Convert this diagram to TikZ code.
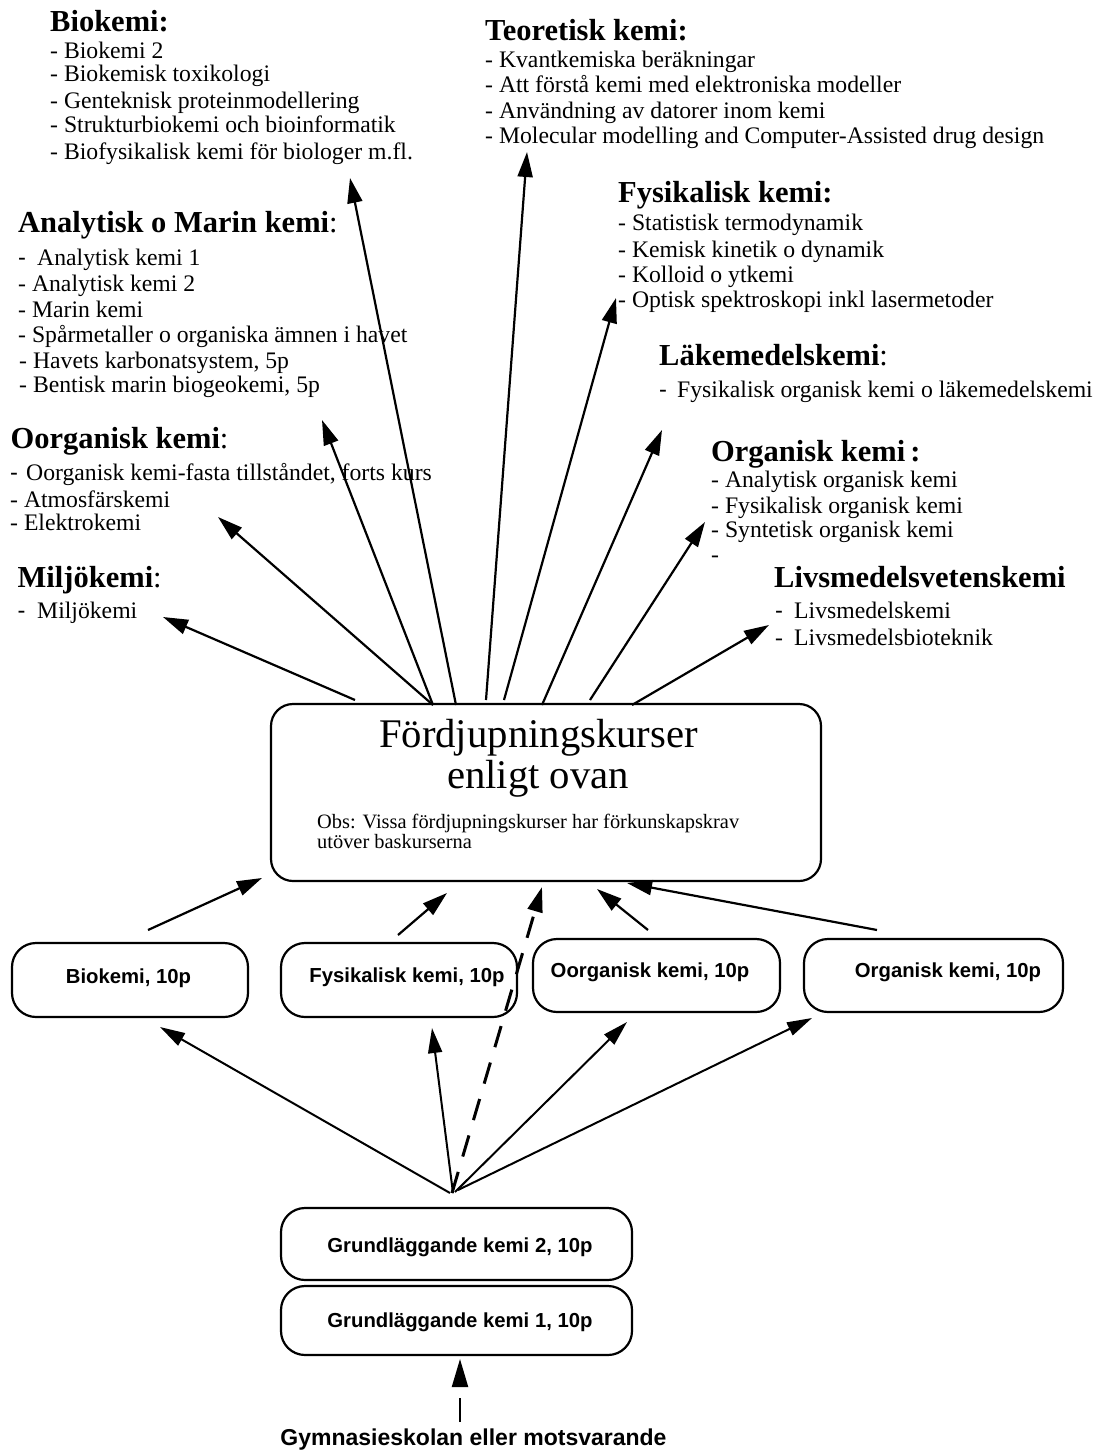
\documentclass[tikz,border=0pt]{standalone}
\usepackage{fontspec}
\setmainfont{Liberation Serif}
\setsansfont{Liberation Sans}
\usetikzlibrary{arrows.meta}
\tikzset{
  hd/.style={anchor=base west, inner sep=0pt, font=\fontsize{30.5}{32}\selectfont\bfseries},
  it/.style={anchor=base west, inner sep=0pt, font=\fontsize{23.7}{25}\selectfont},
  ctext/.style={anchor=base, inner sep=0pt, font=\fontsize{40.7}{42}\selectfont},
  obs/.style={anchor=base west, inner sep=0pt, font=\fontsize{20.4}{22}\selectfont},
  bt/.style={anchor=base, inner sep=0pt, font=\fontsize{20.3}{22}\selectfont\sffamily\bfseries},
  arr/.style={line width=2.2pt, -{Triangle[length=25pt,width=15pt]}},
  arrlow/.style={line width=2pt, -{Triangle[length=25pt,width=14pt]}},
  rbox/.style={draw, line width=2.2pt, rounded corners=24pt, inner sep=0pt},
}
\newcommand{\sh}[1]{\makebox[#1][l]{\sffamily -}}
\begin{document}
\begin{tikzpicture}[x=1pt,y=-1pt]
\useasboundingbox (0,0) rectangle (1094,1450);
\fill[white] (0,0) rectangle (1094,1450);

% ---------- top text blocks ----------
\node[hd] (hB) at (50,32) {Biokemi:};
\node[it] (b1) at (50,59) {- Biokemi 2};
\node[it] (b2) at (50,82) {- Biokemisk toxikologi};
\node[it] (b3) at (50,109) {- Genteknisk proteinmodellering};
\node[it] (b4) at (50,133) {- Strukturbiokemi och bioinformatik};
\node[it] (b5) at (50,160) {- Biofysikalisk kemi för biologer m.fl.};

\node[hd] (hA) at (18,232) {Analytisk o Marin kemi{\mdseries:}};
\node[it] (a1) at (18,265) {\sh{19pt}Analytisk kemi 1};
\node[it] (a2) at (18,291) {- Analytisk kemi 2};
\node[it] (a3) at (18,317) {- Marin kemi};
\node[it] (a4) at (18,342) {- Spårmetaller o organiska ämnen i havet};
\node[it] (a5) at (19,368) {- Havets karbonatsystem, 5p};
\node[it] (a6) at (19,392) {- Bentisk marin biogeokemi, 5p};

\node[hd] (hO) at (10.5,448) {Oorganisk kemi{\mdseries:}};
\node[it] (o1) at (10,480) {\sh{16pt}Oorganisk kemi-fasta tillståndet, forts kurs};
\node[it] (o2) at (10,507) {- Atmosfärskemi};
\node[it] (o3) at (10,530) {- Elektrokemi};

\node[hd] (hM) at (17.5,587) {Miljökemi{\mdseries:}};
\node[it] (m1) at (17.5,618) {\sh{19.5pt}Miljökemi};

\node[hd] (hT) at (485,41) {Teoretisk kemi:};
\node[it] (t1) at (485,68) {- Kvantkemiska beräkningar};
\node[it] (t2) at (485,93) {- Att förstå kemi med elektroniska modeller};
\node[it] (t3) at (485,119) {- Användning av datorer inom kemi};
\node[it] (t4) at (485,144) {- Molecular modelling and Computer-Assisted drug design};

\node[hd] (hF) at (618,202) {Fysikalisk kemi:};
\node[it] (f1) at (618,230) {- Statistisk termodynamik};
\node[it] (f2) at (618,257) {- Kemisk kinetik o dynamik};
\node[it] (f3) at (618,282) {- Kolloid o ytkemi};
\node[it] (f4) at (618,307) {- Optisk spektroskopi inkl lasermetoder};

\node[hd] (hL) at (659,365) {Läkemedelskemi{\mdseries:}};
\node[it] (l1) at (659,397) {\sh{18pt}Fysikalisk organisk kemi o läkemedelskemi};

\node[hd] (hOr) at (711,461) {Organisk kemi\,:};
\node[it] (or1) at (711,487) {- Analytisk organisk kemi};
\node[it] (or2) at (711,513) {- Fysikalisk organisk kemi};
\node[it] (or3) at (711,537) {- Syntetisk organisk kemi};
\node[it] (or4) at (711,562) {-};

\node[hd] (hLv) at (774,587) {Livsmedelsvetenskemi};
\node[it] (lv1) at (775,618) {\sh{19pt}Livsmedelskemi};
\node[it] (lv2) at (775,645) {\makebox[19pt][l]{-}Livsmedelsbioteknik};

% ---------- central box ----------
\node[rbox, rounded corners=22pt, minimum width=550pt, minimum height=177pt] (cbox) at (546,792.5) {};
\node[ctext] (c1) at (538.5,747) {Fördjupningskurser};
\node[ctext] (c2) at (538,788) {enligt ovan};
\node[obs] (c3) at (317,828) {Obs: Vissa fördjupningskurser har förkunskapskrav};
\node[obs] (c4) at (317,848) {utöver baskurserna};

% ---------- middle boxes ----------
\node[rbox, minimum width=236pt, minimum height=74pt] (bio) at (130,980) {};
\node[bt] (biot) at (128.5,983) {Biokemi, 10p};
\node[rbox, minimum width=236pt, minimum height=74pt] (fys) at (399,980) {};
\node[bt] (fyst) at (407,982) {Fysikalisk kemi, 10p};
\node[rbox, minimum width=247pt, minimum height=73pt] (oor) at (656.5,975.5) {};
\node[bt] (oort) at (650,977) {Oorganisk kemi, 10p};
\node[rbox, minimum width=259pt, minimum height=73pt] (org) at (933.5,975.5) {};
\node[bt] (orgt) at (948,977) {Organisk kemi, 10p};

% ---------- base boxes ----------
\node[rbox, minimum width=351pt, minimum height=72pt] (g2) at (456.5,1244) {};
\node[bt] (g2t) at (460,1252) {Grundläggande kemi 2, 10p};
\node[rbox, minimum width=351pt, minimum height=69pt] (g1) at (456.5,1320.5) {};
\node[bt] (g1t) at (460,1327) {Grundläggande kemi 1, 10p};
\node[anchor=base, inner sep=0pt, font=\fontsize{23}{25}\selectfont\sffamily\bfseries] (gym) at (473.5,1445) {Gymnasieskolan eller motsvarande};

% ---------- coordinates for arrow ends ----------
\coordinate (sMil) at (355,700);  \coordinate (eMil) at (163,617);
\coordinate (sOor) at (433,705);  \coordinate (eOor) at (218,517);
\coordinate (sAna) at (433,705);  \coordinate (eAna) at (322,420);
\coordinate (sBio) at (456,705);  \coordinate (eBio) at (350,178);
\coordinate (sTeo) at (486,700);  \coordinate (eTeo) at (527,152);
\coordinate (sFys) at (504,700);  \coordinate (eFys) at (616,298);
\coordinate (sLak) at (542,705);  \coordinate (eLak) at (662,430);
\coordinate (sOrg) at (590,700);  \coordinate (eOrg) at (705,522);
\coordinate (sLiv) at (632,705);  \coordinate (eLiv) at (769,625);

\coordinate (u1s) at (148,930); \coordinate (u1e) at (262,878);
\coordinate (u2s) at (398,935); \coordinate (u2e) at (447,893);
\coordinate (u3s) at (648,930); \coordinate (u3e) at (597,889);
\coordinate (u4s) at (877,930); \coordinate (u4e) at (627,883);

\coordinate (h1s) at (450,1193); \coordinate (h1e) at (160,1027);
\coordinate (h2s) at (453,1193); \coordinate (h2e) at (432,1028);
\coordinate (h3s) at (455,1192); \coordinate (h3e) at (627,1022);
\coordinate (h4s) at (458,1190); \coordinate (h4e) at (812,1018);
\coordinate (hds) at (452,1193); \coordinate (hde) at (542,887);

\coordinate (gymtop) at (460,1422); \coordinate (g1bot) at (460,1359);

% ---------- arrows ----------
\foreach \n in {Mil,Oor,Ana,Bio,Teo,Fys,Lak,Org,Liv}
  \draw[arr] (s\n) -- (e\n);
\foreach \n in {1,2,3,4}
  \draw[arr] (u\n s) -- (u\n e);
\foreach \n in {1,2,3,4}
  \draw[arrlow] (h\n s) -- (h\n e);
\draw[line width=3pt, dash pattern=on 22pt off 16pt, -{Triangle[length=25pt,width=15pt]}] (hds) -- (hde);
\draw[line width=2.2pt, dash pattern=on 24pt off 40pt, -{Triangle[length=28pt,width=16pt]}] (gymtop) -- (g1bot);
\end{tikzpicture}
\end{document}
